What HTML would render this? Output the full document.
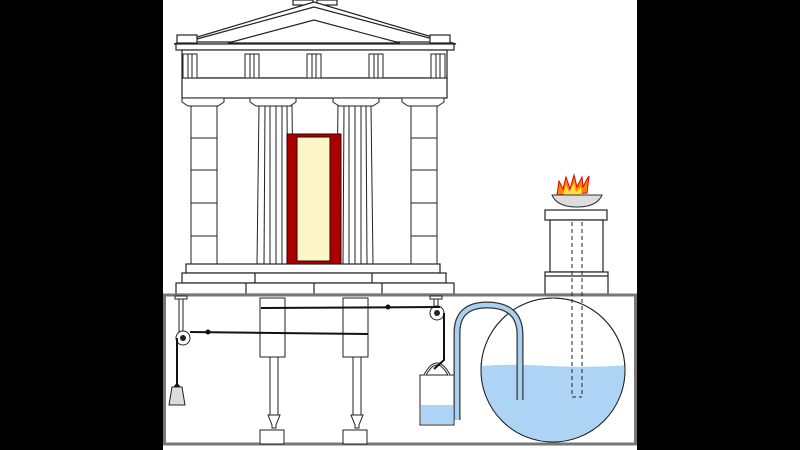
<!DOCTYPE html>
<html><head><style>html,body{margin:0;padding:0;background:#000}svg{display:block}</style></head><body>
<svg width="800" height="450" viewBox="0 0 800 450" xmlns="http://www.w3.org/2000/svg">
<rect x="0" y="0" width="800" height="450" fill="#000"/>
<rect x="163" y="0" width="474" height="450" fill="#fff"/>
<g stroke="#222" stroke-width="1.2" fill="#fff">
<rect x="293" y="0" width="20" height="5"/>
<rect x="317" y="0" width="20" height="5"/>
<polygon points="174,44 314,2 456,44"/>
<polygon points="186,42 314,7 444,42"/>
<polygon points="228,43 314,20 400,43"/>
<rect x="177" y="35" width="20" height="8"/>
<rect x="430" y="35" width="20" height="8"/>
<rect x="176" y="44" width="278" height="6"/>
<rect x="182" y="50" width="265" height="28"/>
<rect x="182" y="78" width="265" height="20"/>
</g>
<g stroke="#222" stroke-width="1" fill="#fff">
<rect x="183" y="54" width="14" height="24"/><line x1="188" y1="54" x2="188" y2="78"/><line x1="192" y1="54" x2="192" y2="78"/>
<rect x="245" y="54" width="14" height="24"/><line x1="250" y1="54" x2="250" y2="78"/><line x1="254" y1="54" x2="254" y2="78"/>
<rect x="307" y="54" width="14" height="24"/><line x1="312" y1="54" x2="312" y2="78"/><line x1="316" y1="54" x2="316" y2="78"/>
<rect x="369" y="54" width="14" height="24"/><line x1="374" y1="54" x2="374" y2="78"/><line x1="378" y1="54" x2="378" y2="78"/>
<rect x="431" y="54" width="14" height="24"/><line x1="436" y1="54" x2="436" y2="78"/><line x1="440" y1="54" x2="440" y2="78"/>
<path d="M182,98 h42 v4 l-6,4 h-30 l-6,-4z"/>
<path d="M250,98 h46 v4 l-6,4 h-34 l-6,-4z"/>
<path d="M333,98 h46 v4 l-6,4 h-34 l-6,-4z"/>
<path d="M402,98 h42 v4 l-6,4 h-30 l-6,-4z"/>
<rect x="191" y="106" width="26" height="158"/>
<line x1="191" y1="138" x2="217" y2="138"/><line x1="191" y1="170" x2="217" y2="170"/><line x1="191" y1="203" x2="217" y2="203"/><line x1="191" y1="236" x2="217" y2="236"/>
<rect x="411" y="106" width="26" height="158"/>
<line x1="411" y1="138" x2="437" y2="138"/><line x1="411" y1="170" x2="437" y2="170"/><line x1="411" y1="203" x2="437" y2="203"/><line x1="411" y1="236" x2="437" y2="236"/>
<path d="M259,106 h33 l2,158 h-37z"/>
<line x1="265" y1="106" x2="264" y2="264"/><line x1="270" y1="106" x2="270" y2="264"/><line x1="276" y1="106" x2="276" y2="264"/><line x1="282" y1="106" x2="282" y2="264"/><line x1="287" y1="106" x2="288" y2="264"/>
<path d="M338,106 h33 l2,158 h-37z"/>
<line x1="344" y1="106" x2="343" y2="264"/><line x1="349" y1="106" x2="349" y2="264"/><line x1="355" y1="106" x2="355" y2="264"/><line x1="361" y1="106" x2="361" y2="264"/><line x1="366" y1="106" x2="367" y2="264"/>
</g>
<rect x="287" y="134" width="54" height="130" fill="#a00" stroke="#300"/>
<rect x="297" y="137" width="33" height="124" fill="#fdf6c8" stroke="#300"/>
<g stroke="#222" stroke-width="1.2" fill="#fff">
<rect x="186" y="264" width="254" height="9"/>
<rect x="182" y="273" width="264" height="10"/>
<line x1="255" y1="273" x2="255" y2="283"/><line x1="372" y1="273" x2="372" y2="283"/>
<rect x="176" y="283" width="278" height="11"/>
<line x1="246" y1="283" x2="246" y2="294"/><line x1="314" y1="283" x2="314" y2="294"/><line x1="382" y1="283" x2="382" y2="294"/>
<rect x="545" y="210" width="62" height="10"/>
<rect x="550" y="220" width="53" height="52"/>
<rect x="545" y="272" width="63" height="22"/>
<line x1="545" y1="276" x2="608" y2="276"/>
</g>
<path d="M557,195 l2,-14 4,8 3,-12 4,12 4,-14 3,12 5,-10 1,10 4,-8 2,-3 -2,17z" fill="#f80" stroke="#d00"/>
<path d="M563,195 l3,-10 3,7 5,-9 2,9 5,-5 1,8z" fill="#fd4"/>
<path d="M552,195 h50 q-5,12 -25,12 q-20,0 -25,-12z" fill="#ddd" stroke="#333"/>
<rect x="164.5" y="295" width="471" height="149" fill="#fff" stroke="#777" stroke-width="3"/>
<defs><clipPath id="sp"><circle cx="553" cy="370" r="72"/></clipPath></defs>
<circle cx="553" cy="370" r="72" fill="#fff" stroke="#222"/>
<path d="M470,367 q40,-4 80,-1 q40,2 80,-1 v90 h-160z" fill="#add4f5" clip-path="url(#sp)"/>
<circle cx="553" cy="370" r="72" fill="none" stroke="#222"/>
<g stroke="#222" stroke-dasharray="4,3" fill="none"><line x1="572" y1="222" x2="572" y2="397"/><line x1="582" y1="222" x2="582" y2="397"/><line x1="572" y1="397" x2="582" y2="397"/></g>
<rect x="420" y="375" width="34" height="50" fill="#fff" stroke="#222"/>
<rect x="421" y="405" width="32" height="19" fill="#add4f5"/>
<path d="M425,375 q12,-22 24,0" fill="none" stroke="#222" stroke-width="3"/>
<path d="M425,375 q12,-22 24,0" fill="none" stroke="#fff" stroke-width="1"/>
<path d="M457,420 V333 q0,-28 30,-28 q33,0 33,30 V400" fill="none" stroke="#333" stroke-width="7"/>
<path d="M457,420 V333 q0,-28 30,-28 q33,0 33,30 V400" fill="none" stroke="#a8d0f0" stroke-width="4.5"/>
<g stroke="#222" stroke-width="1" fill="#fff">
<rect x="260" y="298" width="25" height="59"/><rect x="343" y="298" width="25" height="59"/>
<rect x="270" y="357" width="8" height="58"/><rect x="353" y="357" width="8" height="58"/>
<path d="M268,415 h12 l-4,10 v3 h-4 v-3z"/><path d="M351,415 h12 l-4,10 v3 h-4 v-3z"/>
<rect x="260" y="430" width="24" height="14"/><rect x="343" y="430" width="24" height="14"/>
<rect x="179" y="298" width="4" height="38"/><rect x="175" y="296" width="12" height="3"/>
<rect x="434" y="298" width="4" height="12"/><rect x="430" y="296" width="12" height="3"/>
<circle cx="183" cy="338" r="7"/><circle cx="437" cy="313" r="7"/>
</g>
<circle cx="183" cy="338" r="3" fill="#222"/><circle cx="437" cy="313" r="3" fill="#222"/>
<g stroke="#111" stroke-width="2" fill="none">
<path d="M190,332 L368,334"/>
<path d="M261,308 L440,307"/>
<path d="M177,338 V386"/>
<path d="M444,313 V360 l-10,9"/>
</g>
<circle cx="208" cy="332" r="2.5" fill="#111"/><circle cx="388" cy="307" r="2.5" fill="#111"/>
<circle cx="177" cy="387" r="3" fill="#111"/>
<path d="M172,387 h10 l3,18 h-16z" fill="#ddd" stroke="#222"/>
</svg>
</body></html>
